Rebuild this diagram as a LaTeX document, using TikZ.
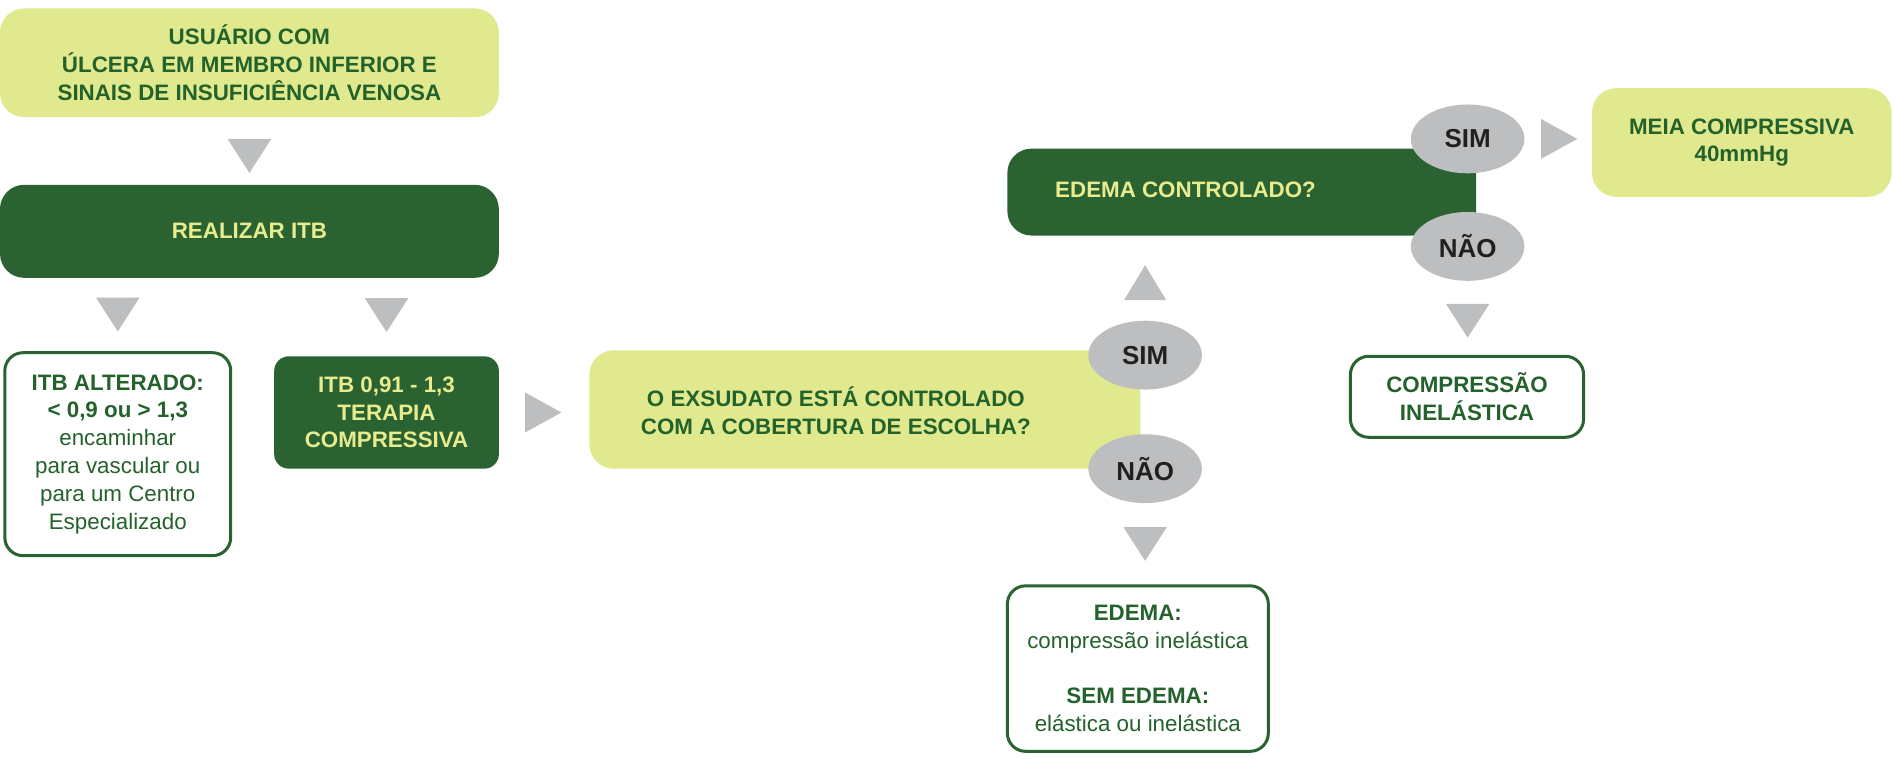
\documentclass[tikz,border=0pt]{standalone}
\usepackage{fontspec}
\setmainfont{Liberation Sans}
\usetikzlibrary{positioning, shapes.geometric}
\definecolor{darkgreen}{RGB}{42,99,49}
\definecolor{lightgreen}{RGB}{225,233,142}
\definecolor{textgreen}{RGB}{36,98,44}
\definecolor{paleyellow}{RGB}{232,236,142}
\definecolor{greyish}{RGB}{189,190,192}
\definecolor{darktext}{RGB}{35,31,32}

\begin{document}
\begin{tikzpicture}[x=1pt, y=-1pt,
    boxfont/.style={font=\bfseries\fontsize{18.5}{23}\selectfont},
    lightbox/.style={boxfont, rounded corners=20pt, fill=lightgreen, text=textgreen, align=center, inner sep=0pt},
    darkbox/.style={boxfont, rounded corners=20pt, fill=darkgreen, text=paleyellow, align=center, inner sep=0pt},
    whitebox/.style={font=\fontsize{18.5}{23}\selectfont, rounded corners=15pt, draw=darkgreen, line width=2.5pt, fill=white, text=textgreen, align=center, inner sep=0pt},
    answer/.style={ellipse, fill=greyish, text=darktext, font=\bfseries\fontsize{21.5}{24}\selectfont, minimum width=94pt, minimum height=57pt, inner sep=0pt},
    tri/.style={isosceles triangle, isosceles triangle stretches, fill=greyish, inner sep=0pt, outer sep=0pt},
    tridown/.style={tri, shape border rotate=-90, minimum width=36pt, minimum height=28pt},
    triup/.style={tri, shape border rotate=90, minimum width=35pt, minimum height=29pt},
    triright/.style={tri, minimum width=33pt, minimum height=30pt}]
    \useasboundingbox (0,0) rectangle (1568,628);

    % Nodes
    \node[lightbox, minimum width=413pt, minimum height=90pt] (user) at (206.5,52) {USUÁRIO COM\\ÚLCERA EM MEMBRO INFERIOR E\\SINAIS DE INSUFICIÊNCIA VENOSA};
    \node[darkbox, minimum width=413pt, minimum height=77pt] (itb) at (206.5,191.5) {REALIZAR ITB};
    \node[whitebox, minimum width=187pt, minimum height=168pt] (alt) at (97.5,376) {\textbf{ITB ALTERADO:}\\\textbf{< 0,9 ou > 1,3}\\encaminhar\\para vascular ou\\para um Centro\\Especializado};
    \node[darkbox, rounded corners=12pt, minimum width=186pt, minimum height=93pt] (norm) at (320,341.5) {ITB 0,91 - 1,3\\TERAPIA\\COMPRESSIVA};
    \node[lightbox, minimum width=456pt, minimum height=98pt] (exs) at (716,339) {};
    \node[boxfont, text=textgreen, align=center] (exsq) at (692,340) {O EXSUDATO ESTÁ CONTROLADO\\COM A COBERTURA DE ESCOLHA?};
    \node[answer] (sim1) at (948,294) {SIM};
    \node[answer] (nao1) at (948,388) {NÃO};
    \node[whitebox, minimum width=216pt, minimum height=137pt] (res) at (942,553.5) {\textbf{EDEMA:}\\compressão inelástica\\[23pt]\textbf{SEM EDEMA:}\\elástica ou inelástica};
    \node[darkbox, minimum width=388pt, minimum height=72pt] (edema) at (1028,159) {};
    \node[boxfont, text=paleyellow] (edemaq) at (981.5,157) {EDEMA CONTROLADO?};
    \node[answer] (sim2) at (1215,115) {SIM};
    \node[answer] (nao2) at (1215,204) {NÃO};
    \node[lightbox, minimum width=248pt, minimum height=90pt] (meia) at (1442,118) {MEIA COMPRESSIVA\\40mmHg};
    \node[whitebox, font=\bfseries\fontsize{18.5}{23}\selectfont, minimum width=193pt, minimum height=67pt] (comp) at (1214.5,328.5) {COMPRESSÃO\\INELÁSTICA};

    % Edges
    \path (user.south) -- node[tridown] {} (itb.north);
    \path (itb.south -| alt.north) -- node[tridown, pos=0.43] {} (alt.north);
    \path (itb.south -| norm.north) -- node[tridown, pos=0.41] {} (norm.north);
    \path (norm.east) -- node[triright, pos=0.42] {} (norm.east -| exs.west);
    \path (edema.south -| sim1.north) -- node[triup, pos=0.62] {} (sim1.north);
    \path (nao1.south) -- node[tridown, pos=0.44] {} (nao1.south |- res.north);
    \path (sim2.east) -- node[triright, pos=0.42] {} (sim2.east -| meia.west);
    \path (nao2.south) -- node[tridown, pos=0.47] {} (nao2.south |- comp.north);
\end{tikzpicture}
\end{document}
